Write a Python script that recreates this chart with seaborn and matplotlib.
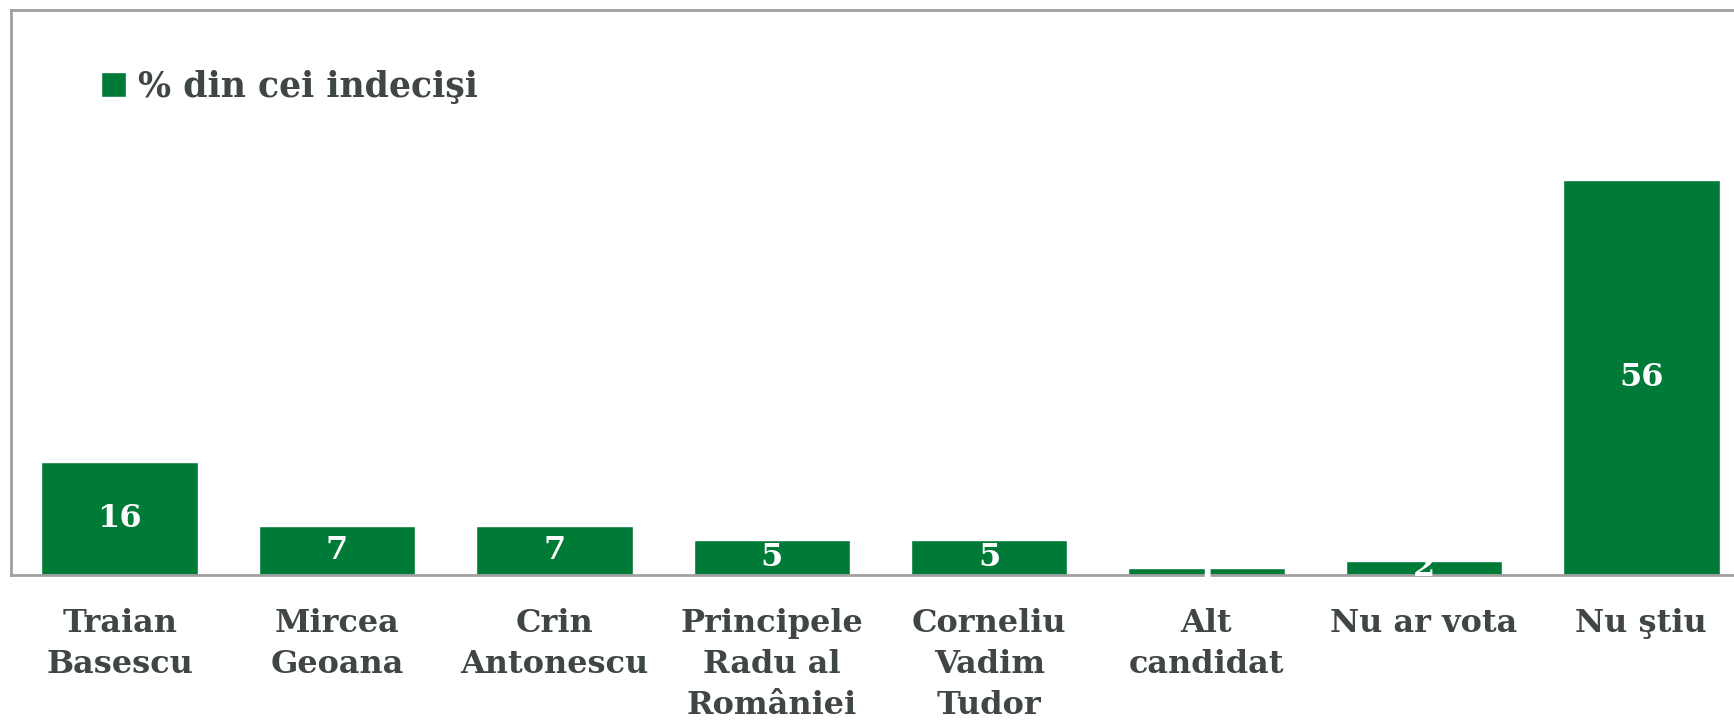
import matplotlib
matplotlib.use('Agg')
import matplotlib.pyplot as plt
import seaborn as sns
import pandas as pd

categories = ['Traian\nBasescu', 'Mircea\nGeoana', 'Crin\nAntonescu', 'Principele\nRadu al\nRomâniei',
              'Corneliu\nVadim\nTudor', 'Alt\ncandidat', 'Nu ar vota', 'Nu ştiu']
values = [16, 7, 7, 5, 5, 1, 2, 56]
series_name = '% din cei indecişi'

green = '#007a37'
text_grey = '#404646'

sns.set_style('white')
plt.rcParams['font.family'] = ['DejaVu Serif']
plt.rcParams['font.weight'] = 'bold'

df = pd.DataFrame({'cat': categories, 'val': values})

fig = plt.figure(figsize=(17.34, 7.28), dpi=100)
ax = fig.add_axes([11 / 1734, 1 - 575 / 728, 1739 / 1734, 565 / 728])
sns.barplot(data=df, x='cat', y='val', color=green, width=0.72, saturation=1, label=series_name, ax=ax)
ax.bar_label(ax.containers[0], label_type='center', color='white', fontsize=23, fontweight='bold')

ax.set_xlim(-0.5, 7.5)
ax.set_ylim(0, 80)
ax.set_xlabel('')
ax.set_ylabel('')
ax.set_yticks([])
ax.tick_params(axis='x', length=0, pad=24, labelsize=23, labelcolor=text_grey)
for lbl in ax.get_xticklabels():
    lbl.set_linespacing(1.42)
for s in ['left', 'top', 'bottom']:
    ax.spines[s].set_color('#a0a0a0')
    ax.spines[s].set_linewidth(2)
ax.spines['right'].set_visible(False)

leg = ax.legend(loc='upper left', bbox_to_anchor=(0.034, 0.95), frameon=False, fontsize=25,
                handlelength=0.7, handleheight=0.7, handletextpad=0.35)
for t in leg.get_texts():
    t.set_color(text_grey)

fig.savefig('out.png', dpi=100)
